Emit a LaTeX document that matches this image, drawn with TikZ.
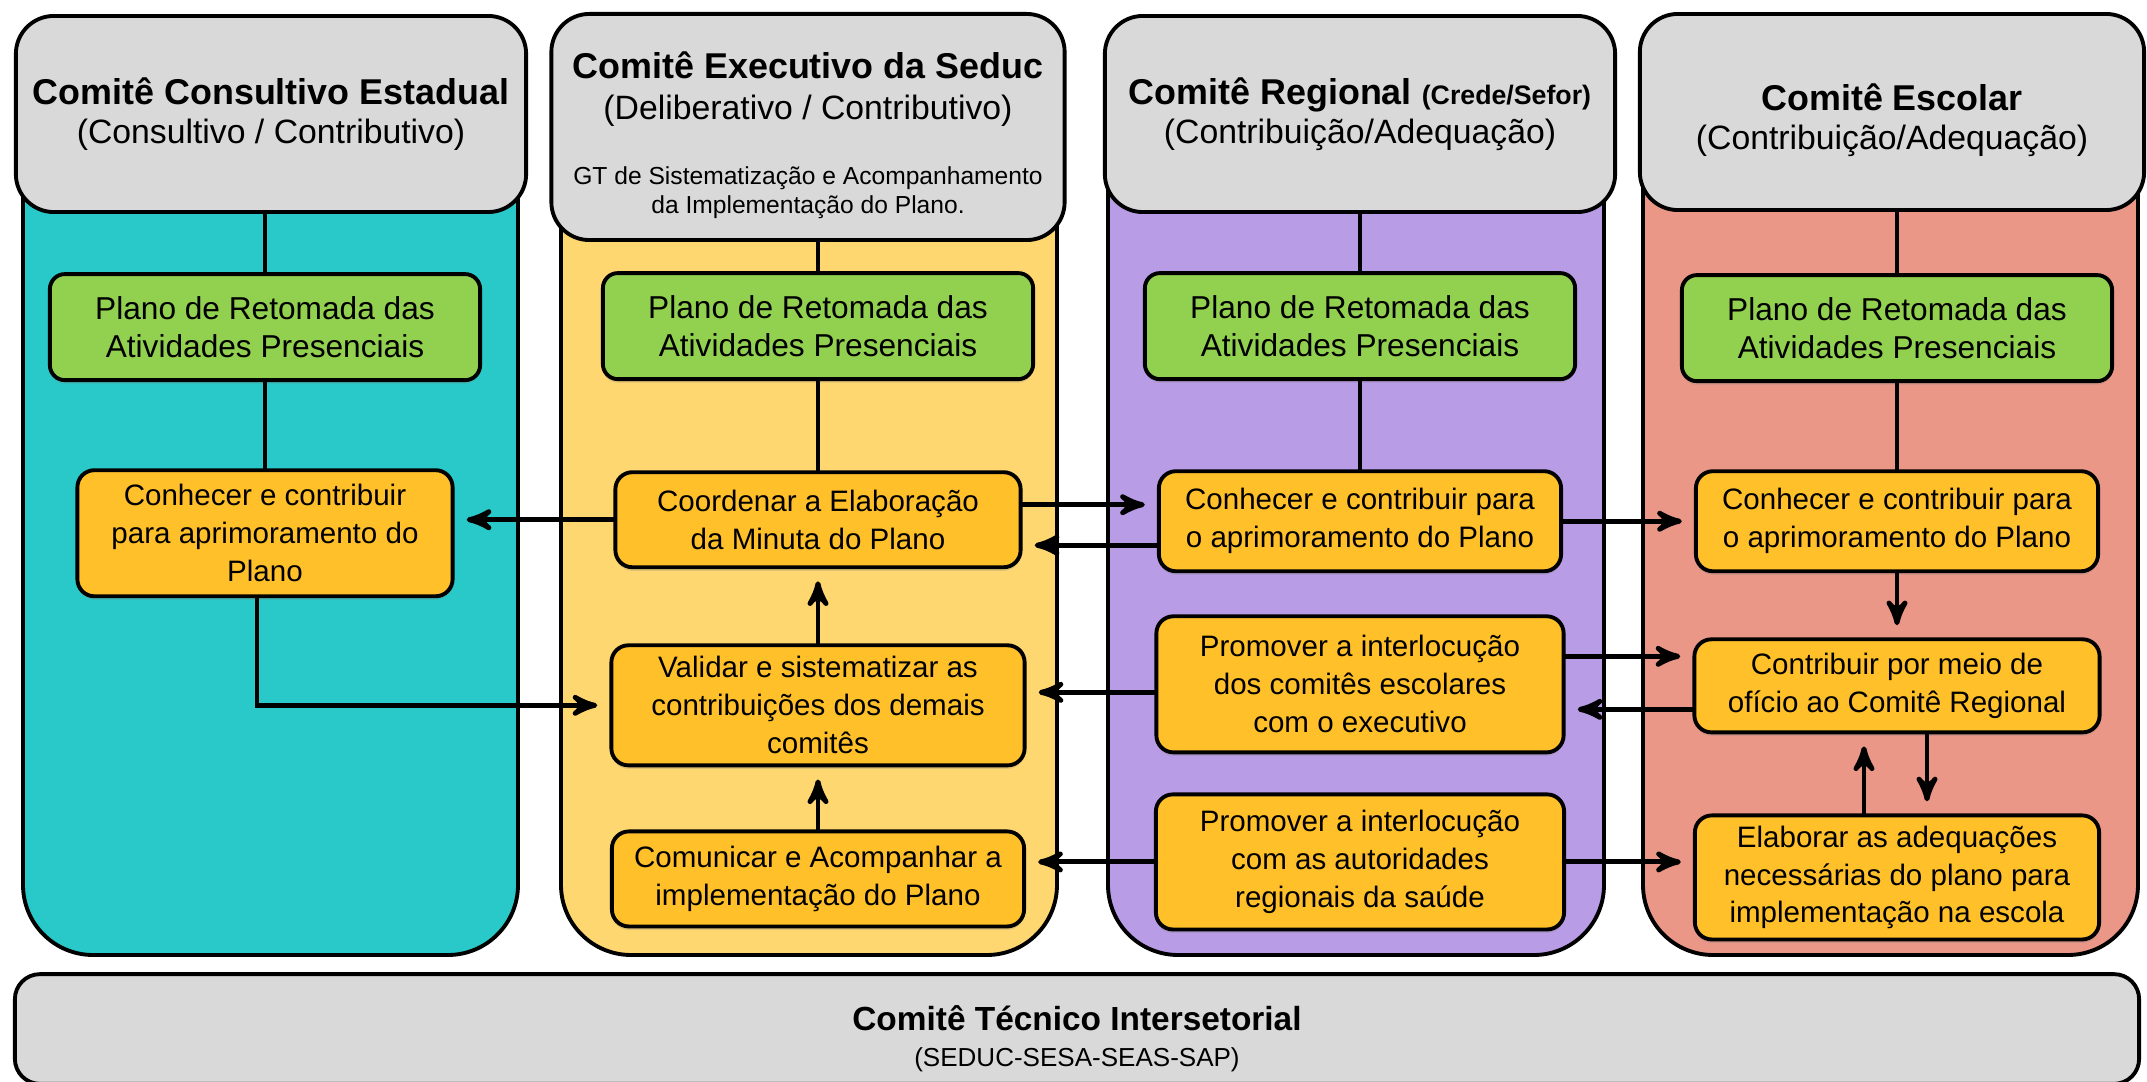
\documentclass[tikz,border=0pt]{standalone}
\usepackage{fontspec}
\setmainfont{Liberation Sans}
\usetikzlibrary{arrows,positioning,shadows}
\definecolor{cinza}{RGB}{217,217,217}
\definecolor{ciano}{RGB}{41,201,201}
\definecolor{amarelo}{RGB}{255,215,112}
\definecolor{lilas}{RGB}{185,156,230}
\definecolor{salmao}{RGB}{234,151,136}
\definecolor{verde}{RGB}{146,208,80}
\definecolor{laranja}{RGB}{255,192,41}
\tikzset{
    %Define standard arrow tip
    >=stealth',
    %Cabeçalho dos comitês
    cabeca/.style={
           rectangle,
           rounded corners=0.38cm,
           draw=black,
           line width=1.1pt,
           outer sep=0pt,
           fill=cinza,
           align=center,
           minimum width=5.1cm,
           minimum height=1.96cm,
           font=\fontsize{9.6}{11}\selectfont},
    %Faixa colorida de cada comitê
    faixa/.style={
           draw=black,
           line width=1.1pt,
           rounded corners=0.7cm},
    %Caixa verde do plano
    plano/.style={
           rectangle,
           rounded corners=0.15cm,
           draw=black,
           line width=1.1pt,
           outer sep=0pt,
           fill=verde,
           align=center,
           inner sep=2pt,
           minimum width=4.3cm,
           minimum height=1.06cm,
           drop shadow={opacity=0.25,shadow xshift=0pt,shadow yshift=-1pt},
           font=\fontsize{9}{10.6}\selectfont},
    %Caixa laranja das ações
    acao/.style={
           rectangle,
           rounded corners=0.17cm,
           draw=black,
           line width=1.1pt,
           outer sep=0pt,
           fill=laranja,
           align=center,
           inner sep=2pt,
           drop shadow={opacity=0.25,shadow xshift=0pt,shadow yshift=-1pt},
           font=\fontsize{8.4}{10.8}\selectfont},
    %Linha simples
    liga/.style={
           line width=1.1pt},
    %Seta
    seta/.style={
           ->,
           line width=1.4pt,
           shorten >=4pt}
}
\begin{document}
\begin{tikzpicture}[x=0.01cm,y=-0.01cm]
  \useasboundingbox (0,0) rectangle (2147,1082);
  % faixas
  \draw[faixa,fill=ciano]   (23,100) rectangle (518,955);
  \draw[faixa,fill=amarelo] (561,100) rectangle (1057,955);
  \draw[faixa,fill=lilas]   (1108,100) rectangle (1604,955);
  \draw[faixa,fill=salmao]  (1643,100) rectangle (2138,955);
  % cabeçalhos
  \node[cabeca] (cab1) at (271,114)
    {{\fontsize{10.2}{11}\selectfont\bfseries Comitê Consultivo Estadual}\\(Consultivo / Contributivo)};
  \node[cabeca,minimum width=5.13cm,minimum height=2.26cm] (cab2) at (808,127)
    {\rule{0pt}{12.2pt}{\fontsize{10.2}{11}\selectfont\bfseries Comitê Executivo da Seduc}\\[0.9pt]
     (Deliberativo / Contributivo)\\[7.4pt]
     {\fontsize{7}{8}\selectfont GT de Sistematização e Acompanhamento}\\[-2.8pt]
     {\fontsize{7}{8}\selectfont da Implementação do Plano.}};
  \node[cabeca] (cab3) at (1360,114)
    {{\fontsize{10.2}{11}\selectfont\bfseries Comitê Regional {\fontsize{7.6}{9}\selectfont(Crede/Sefor)}}\\(Contribuição/Adequação)};
  \node[cabeca,minimum width=5.04cm] (cab4) at (1892,112)
    {\rule{0pt}{12.2pt}{\fontsize{10.2}{11}\selectfont\bfseries Comitê Escolar}\\(Contribuição/Adequação)};

  % comitê consultivo
  \node[plano,below=0.62cm of cab1,xshift=-0.06cm] (pl1) {Plano de Retomada das\\Atividades Presenciais};
  \node[acao,below=0.9cm of pl1,minimum width=3.75cm,minimum height=1.26cm] (cons)
    {Conhecer e contribuir\\para aprimoramento do\\Plano};

  % comitê executivo
  \node[plano,below=0.33cm of cab2,xshift=0.1cm] (pl2) {Plano de Retomada das\\Atividades Presenciais};
  \node[acao,below=0.93cm of pl2,minimum width=4.05cm,minimum height=0.95cm] (coord)
    {Coordenar a Elaboração\\da Minuta do Plano};
  \node[acao,below=0.78cm of coord,minimum width=4.13cm,minimum height=1.2cm] (valid)
    {Validar e sistematizar as\\contribuições dos demais\\comitês};
  \node[acao,below=0.66cm of valid,minimum width=4.12cm,minimum height=0.95cm] (comun)
    {Comunicar e Acompanhar a\\implementação do Plano};

  % comitê regional
  \node[plano,below=0.61cm of cab3] (pl3) {Plano de Retomada das\\Atividades Presenciais};
  \node[acao,below=0.92cm of pl3,minimum width=4.02cm,minimum height=1cm] (reg1)
    {Conhecer e contribuir para\\o aprimoramento do Plano};
  \node[acao,below=0.45cm of reg1,minimum width=4.07cm,minimum height=1.36cm] (reg2)
    {Promover a interlocução\\dos comitês escolares\\com o executivo};
  \node[acao,below=0.42cm of reg2,minimum width=4.08cm,minimum height=1.35cm] (reg3)
    {Promover a interlocução\\com as autoridades\\regionais da saúde};

  % comitê escolar
  \node[plano,below=0.65cm of cab4,xshift=0.05cm] (pl4) {Plano de Retomada das\\Atividades Presenciais};
  \node[acao,below=0.9cm of pl4,minimum width=4.02cm,minimum height=1cm] (esc1)
    {Conhecer e contribuir para\\o aprimoramento do Plano};
  \node[acao,below=0.68cm of esc1,minimum width=4.05cm,minimum height=0.93cm] (esc2)
    {Contribuir por meio de\\ofício ao Comitê Regional};
  \node[acao,below=0.83cm of esc2,minimum width=4.04cm,minimum height=1.24cm] (esc3)
    {Elaborar as adequações\\necessárias do plano para\\implementação na escola};

  % comitê técnico
  \node[rectangle,rounded corners=0.25cm,draw=black,line width=1.1pt,fill=cinza,
        minimum width=21.23cm,minimum height=1.02cm,align=center,
        font=\fontsize{7.4}{10.2}\selectfont] (tec) at (1077,1029)
    {\rule{0pt}{12.8pt}{\fontsize{9.5}{10}\selectfont\bfseries Comitê Técnico Intersetorial}\\(SEDUC-SESA-SEAS-SAP)};

  % ligações
  \draw[liga] (cab1.south -| pl1.north) -- (pl1.north);
  \draw[liga] (pl1) -- (cons);
  \draw[liga] (cab2.south -| pl2.north) -- (pl2.north);
  \draw[liga] (pl2) -- (coord);
  \draw[liga] (cab3.south -| pl3.north) -- (pl3.north);
  \draw[liga] (pl3) -- (reg1);
  \draw[liga] (cab4.south -| pl4.north) -- (pl4.north);
  \draw[liga] (pl4) -- (esc1);

  % setas
  \draw[seta] (coord.west) -- (coord.west -| cons.east);
  \draw[seta] ([yshift=0.15cm]coord.east) -- ([yshift=0.15cm]coord.east -| reg1.west);
  \draw[seta] ([yshift=-0.24cm]reg1.west) -- ([yshift=-0.24cm]reg1.west -| coord.east);
  \draw[seta] (reg1.east) -- (reg1.east -| esc1.west);
  \draw[seta] ([xshift=-0.08cm]cons.south) |- (valid.west);
  \draw[seta] (valid) -- (coord);
  \draw[seta] (comun) -- (valid);
  \draw[seta] ([yshift=-0.08cm]reg2.west) -- ([yshift=-0.08cm]reg2.west -| valid.east);
  \draw[seta] (reg3.west) -- (reg3.west -| comun.east);
  \draw[seta] ([yshift=0.28cm]reg2.east) -- ([yshift=0.28cm]reg2.east -| esc2.west);
  \draw[seta] ([yshift=-0.235cm]esc2.west) -- ([yshift=-0.235cm]esc2.west -| reg2.east);
  \draw[seta] (reg3.east) -- (reg3.east -| esc3.west);
  \draw[seta] (esc1) -- (esc2);
  \draw[seta] ([xshift=-0.33cm]esc3.north) -- ([xshift=-0.33cm]esc3.north |- esc2.south);
  \draw[seta] ([xshift=0.3cm]esc2.south) -- ([xshift=0.3cm]esc2.south |- esc3.north);
\end{tikzpicture}
\end{document}
